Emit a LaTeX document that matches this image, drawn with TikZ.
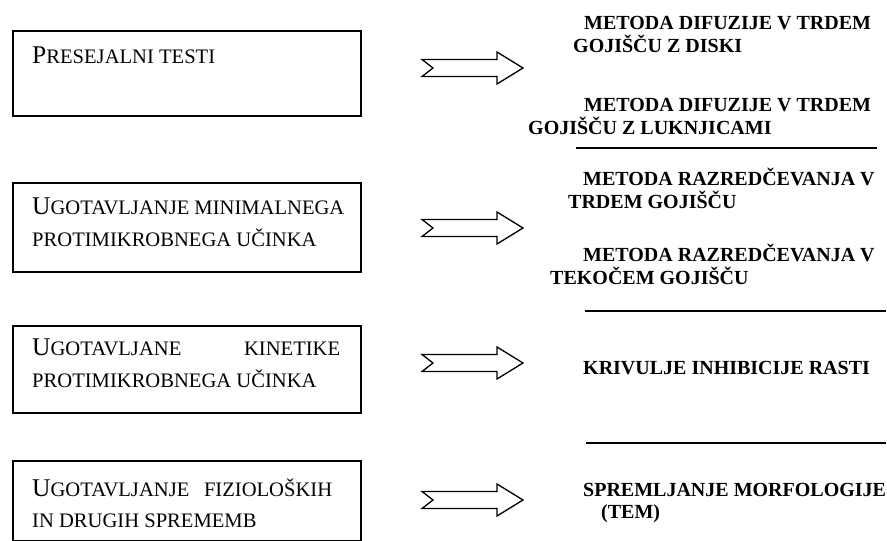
\documentclass[tikz,border=0pt]{standalone}
\usepackage{fontspec}
\setmainfont{Liberation Serif}
\newcommand\smc[1]{{\fontsize{20.6}{30}\selectfont #1}}
\tikzset{
  box/.style={draw, line width=1.5pt, minimum width=348pt, inner sep=0pt, anchor=north west},
  boxtxt/.style={anchor=base west, inner sep=0pt, font=\fontsize{25.5}{30}\selectfont},
  rtxt/.style={anchor=base west, inner sep=0pt, font=\fontsize{20}{23}\selectfont\bfseries},
  rulel/.style={line width=1.6pt},
  arrline/.style={draw, line width=1.3pt, line join=miter},
  blockarr/.pic={\draw[arrline] (0,8.5) -- (75,8.5) -- (75,16) -- (101,0) -- (75,-16) -- (75,-8.5) -- (0,-8.5) -- (11,0) -- cycle;}
}
\begin{document}
\begin{tikzpicture}[x=1pt,y=-1pt]
\useasboundingbox (0,0) rectangle (887,541);
% boxes
\node[box, minimum height=85pt] (b1) at (12,30) {};
\node[box, minimum height=89pt] (b2) at (12,182) {};
\node[box, minimum height=87pt] (b3) at (12,325) {};
\node[box, minimum height=80pt] (b4) at (12,460) {};
% box texts
\node[boxtxt] (t1) at (32,63) {P\smc{RESEJALNI TESTI}};
\node[boxtxt] (t2a) at (32,214) {U\smc{GOTAVLJANJE MINIMALNEGA}};
\node[boxtxt] (t2b) at (32,246) {\smc{PROTIMIKROBNEGA UČINKA}};
\node[boxtxt] (t3a) at (32,355) {\hbox to 308pt{U\smc{GOTAVLJANE}\hfill\smc{KINETIKE}}};
\node[boxtxt] (t3b) at (32,387) {\smc{PROTIMIKROBNEGA UČINKA}};
\node[boxtxt] (t4a) at (32,496) {\hbox to 300pt{U\smc{GOTAVLJANJE}\hfill\smc{FIZIOLOŠKIH}}};
\node[boxtxt] (t4b) at (32,527) {\smc{IN DRUGIH SPREMEMB}};
% arrows
\coordinate (a1) at (422,68);
\coordinate (a2) at (422,228);
\coordinate (a3) at (422,363);
\coordinate (a4) at (422,500);
\pic at (a1) {blockarr};
\pic at (a2) {blockarr};
\pic at (a3) {blockarr};
\pic at (a4) {blockarr};
% right texts
\node[rtxt] (r1a) at (584,29) {METODA DIFUZIJE V TRDEM};
\node[rtxt] (r1b) at (573,52) {GOJIŠČU Z DISKI};
\node[rtxt] (r2a) at (584,111) {METODA DIFUZIJE V TRDEM};
\node[rtxt] (r2b) at (528,134) {GOJIŠČU Z LUKNJICAMI};
\node[rtxt] (r3a) at (583,185) {METODA RAZREDČEVANJA V};
\node[rtxt] (r3b) at (568,208) {TRDEM GOJIŠČU};
\node[rtxt] (r4a) at (583,261) {METODA RAZREDČEVANJA V};
\node[rtxt] (r4b) at (550,284) {TEKOČEM GOJIŠČU};
\node[rtxt] (r5) at (583,374) {KRIVULJE INHIBICIJE RASTI};
\node[rtxt] (r6a) at (583,496) {SPREMLJANJE MORFOLOGIJE};
\node[rtxt] (r6b) at (601,518) {(TEM)};
% rules
\coordinate (l1a) at (576,148); \coordinate (l1b) at (877,148);
\coordinate (l2a) at (585,311); \coordinate (l2b) at (886,311);
\coordinate (l3a) at (586,443); \coordinate (l3b) at (886,443);
\draw[rulel] (l1a) -- (l1b);
\draw[rulel] (l2a) -- (l2b);
\draw[rulel] (l3a) -- (l3b);
\end{tikzpicture}
\end{document}
